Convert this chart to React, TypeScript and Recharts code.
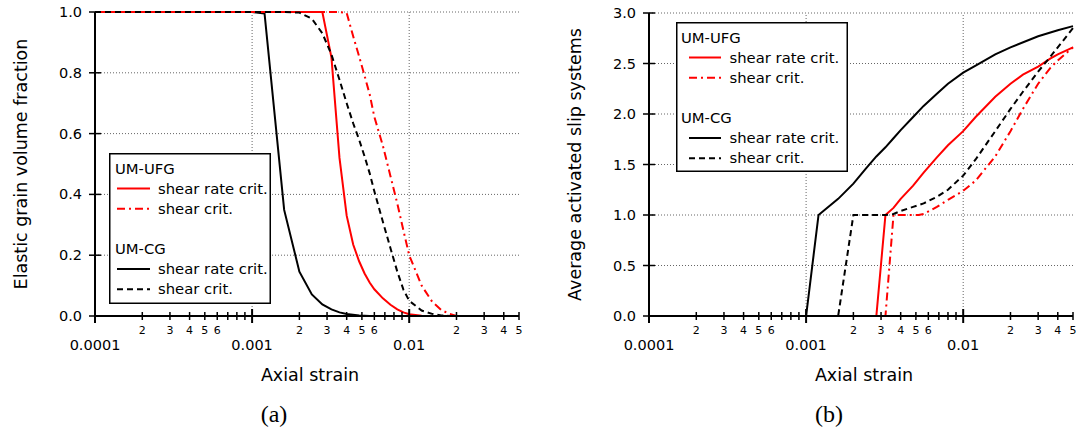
import React from "react";
import {
  CartesianGrid,
  Legend,
  Line,
  LineChart,
  ReferenceLine,
  XAxis,
  YAxis
} from "recharts";

const FONT = "'DejaVu Sans', Verdana, sans-serif";
const RED = "#f00";
const BLACK = "#000";
const DASH = "6 4";
const DASH_DOT = "8 4 2 4";
const GRID = "#666";

// log axis ticks: decades plus 2..9 minors, axis ends at 0.05
const xTicks = [
  0.0001, 0.0002, 0.0003, 0.0004, 0.0005, 0.0006, 0.0007, 0.0008, 0.0009,
  0.001, 0.002, 0.003, 0.004, 0.005, 0.006, 0.007, 0.008, 0.009,
  0.01, 0.02, 0.03, 0.04, 0.05
];
const decadeGrid = [0.001, 0.01];
const fracTicks = [0, 0.2, 0.4, 0.6, 0.8, 1.0];
const slipTicks = [0, 0.5, 1.0, 1.5, 2.0, 2.5, 3.0];

// (a) elastic grain volume fraction
const fracCgRateStrain = [0.0001, 0.001, 0.0012, 0.0016, 0.002, 0.0024, 0.0028, 0.0032, 0.0036, 0.004, 0.0048, 0.0056, 0.05];
const fracCgRate = [1, 1, 0.995, 0.349, 0.146, 0.071, 0.038, 0.022, 0.012, 0.0066, 0.002, 0, 0];

const fracCgShearStrain = [0.0001, 0.0016, 0.002, 0.0024, 0.0028, 0.0032, 0.0036, 0.004, 0.0044, 0.0048, 0.0052, 0.0056, 0.006, 0.0068, 0.0076, 0.0084, 0.0092, 0.01, 0.012, 0.014, 0.016, 0.018, 0.05];
const fracCgShear = [1, 1, 0.998, 0.978, 0.93, 0.86, 0.777, 0.7, 0.634, 0.58, 0.525, 0.47, 0.41, 0.31, 0.223, 0.146, 0.086, 0.05, 0.018, 0.007, 0.002, 0, 0];

const fracUfgRateStrain = [0.0001, 0.0028, 0.0032, 0.0036, 0.004, 0.0044, 0.0048, 0.0052, 0.0056, 0.006, 0.0068, 0.0076, 0.0084, 0.0092, 0.01, 0.012, 0.014, 0.05];
const fracUfgRate = [1, 1, 0.85, 0.52, 0.33, 0.235, 0.18, 0.14, 0.11, 0.088, 0.058, 0.037, 0.022, 0.012, 0.006, 0.001, 0, 0];

const fracUfgShearStrain = [0.0001, 0.0036, 0.004, 0.0044, 0.0048, 0.0052, 0.0056, 0.006, 0.0068, 0.0076, 0.0084, 0.0092, 0.01, 0.012, 0.014, 0.016, 0.018, 0.02, 0.05];
const fracUfgShear = [1, 1, 0.997, 0.92, 0.854, 0.79, 0.73, 0.655, 0.56, 0.46, 0.37, 0.28, 0.2, 0.1, 0.047, 0.02, 0.007, 0, 0];

// (b) average activated slip systems
const slipCgRateStrain = [0.0001, 0.001, 0.0012, 0.0016, 0.002, 0.0024, 0.0028, 0.0032, 0.0036, 0.004, 0.0048, 0.0056, 0.0068, 0.008, 0.01, 0.012, 0.016, 0.02, 0.03, 0.04, 0.05];
const slipCgRate = [0, 0, 1.0, 1.16, 1.31, 1.46, 1.58, 1.67, 1.76, 1.84, 1.97, 2.08, 2.2, 2.3, 2.41, 2.48, 2.59, 2.66, 2.77, 2.83, 2.87];

const slipCgShearStrain = [0.0001, 0.0016, 0.002, 0.0032, 0.0036, 0.004, 0.0048, 0.0056, 0.0068, 0.008, 0.01, 0.012, 0.016, 0.02, 0.024, 0.03, 0.036, 0.04, 0.05];
const slipCgShear = [0, 0, 1.0, 1.0, 1.01, 1.04, 1.08, 1.115, 1.18, 1.25, 1.39, 1.55, 1.83, 2.05, 2.22, 2.42, 2.57, 2.66, 2.85];

const slipUfgRateStrain = [0.0001, 0.0028, 0.0032, 0.0036, 0.004, 0.0048, 0.0056, 0.0068, 0.008, 0.01, 0.012, 0.016, 0.02, 0.024, 0.03, 0.036, 0.04, 0.05];
const slipUfgRate = [0, 0, 1.0, 1.07, 1.16, 1.29, 1.42, 1.57, 1.69, 1.83, 1.97, 2.17, 2.3, 2.39, 2.47, 2.55, 2.59, 2.66];

const slipUfgShearStrain = [0.0001, 0.0032, 0.0036, 0.0052, 0.0056, 0.0068, 0.008, 0.01, 0.012, 0.016, 0.02, 0.024, 0.03, 0.036, 0.04, 0.05];
const slipUfgShear = [0, 0, 1.0, 1.0, 1.01, 1.08, 1.15, 1.24, 1.34, 1.58, 1.83, 2.05, 2.3, 2.46, 2.53, 2.66];

const zip = (xs: number[], ys: number[]) => xs.map((x, i) => ({ x, y: ys[i] }));

function XTick({ x, y, payload }: any) {
  const v = payload.value as number;
  const exp = Math.floor(Math.log10(v) + 1e-9);
  const m = Math.round(v / Math.pow(10, exp));
  const major = m === 1;
  const len = major ? 7 : 4;
  return (
    <g>
      <line x1={x} x2={x} y1={y - len} y2={y + len} stroke="#000" strokeWidth={major ? 2 : 1.5} />
      {major ? (
        <text x={x} y={y + 34} textAnchor="middle" fontSize={14.5} fontFamily={FONT} fill="#000">
          {String(v)}
        </text>
      ) : m <= 6 ? (
        <text x={x} y={y + 18} textAnchor="middle" fontSize={11} fontFamily={FONT} fill="#000">
          {m}
        </text>
      ) : null}
    </g>
  );
}

function YTick({ x, y, payload }: any) {
  return (
    <g>
      <line x1={x - 6} x2={x + 6} y1={y} y2={y} stroke="#000" strokeWidth={1.5} />
      <text x={x - 13} y={y + 5} textAnchor="end" fontSize={14.5} fontFamily={FONT} fill="#000">
        {Number(payload.value).toFixed(1)}
      </text>
    </g>
  );
}

const yTitle = (text: string, dx: number) => (props: any) => {
  const vb = props.viewBox;
  if (!vb) return null;
  const cx = vb.x + dx;
  const cy = vb.y + vb.height / 2;
  return (
    <text
      x={cx}
      y={cy}
      transform={`rotate(-90 ${cx} ${cy})`}
      textAnchor="middle"
      dominantBaseline="central"
      fontSize={17.5}
      fontFamily={FONT}
      fill="#000"
    >
      {text}
    </text>
  );
};

const xTitle = (props: any) => {
  const vb = props.viewBox;
  if (!vb) return null;
  return (
    <text x={vb.x + vb.width / 2 + 3} y={vb.y + 65} textAnchor="middle" fontSize={17.5} fontFamily={FONT} fill="#000">
      Axial strain
    </text>
  );
};

const legendGroups = [
  {
    title: "UM-UFG",
    items: [
      { name: "shear rate crit.", stroke: RED, dash: undefined },
      { name: "shear crit.", stroke: RED, dash: DASH_DOT }
    ]
  },
  {
    title: "UM-CG",
    items: [
      { name: "shear rate crit.", stroke: BLACK, dash: undefined },
      { name: "shear crit.", stroke: BLACK, dash: DASH }
    ]
  }
];
const legendRowY = [15, 35.5, 55.7, 95.6, 116, 136.2];

function LegendBox({ w, h, titleX, lineX0, lineX1, textX }: any) {
  const rows: React.ReactNode[] = [];
  let r = 0;
  legendGroups.forEach((g, gi) => {
    rows.push(
      <text key={`t${gi}`} x={titleX} y={legendRowY[r] + 5.5} fontSize={14.8} fontFamily={FONT} fill="#000">
        {g.title}
      </text>
    );
    r++;
    g.items.forEach((it, ii) => {
      const yy = legendRowY[r];
      rows.push(
        <g key={`i${gi}${ii}`}>
          <line x1={lineX0} x2={lineX1} y1={yy} y2={yy} stroke={it.stroke} strokeWidth={2} strokeDasharray={it.dash} />
          <text x={textX} y={yy + 5} fontSize={14.8} fontFamily={FONT} fill="#000">
            {it.name}
          </text>
        </g>
      );
      r++;
    });
  });
  return (
    <svg width={w} height={h} style={{ display: "block" }}>
      <rect x={0.75} y={0.75} width={w - 1.5} height={h - 1.5} fill="#fff" stroke="#000" strokeWidth={1.5} />
      {rows}
    </svg>
  );
}

function Panel({ series, yTicks, yMax, yLabel, yLabelDx, yWidth, width, margin, legend }: any) {
  return (
    <LineChart width={width} height={434} margin={margin}>
      <CartesianGrid vertical={false} stroke={GRID} strokeWidth={1} strokeDasharray="1 2" />
      {decadeGrid.map((d) => (
        <ReferenceLine key={d} x={d} stroke={GRID} strokeWidth={1} strokeDasharray="1 2" />
      ))}
      <XAxis
        dataKey="x"
        type="number"
        scale="log"
        domain={[0.0001, 0.05]}
        ticks={xTicks}
        interval={0}
        height={118}
        tickSize={0}
        tickMargin={0}
        tickLine={false}
        tick={(p: any) => <XTick {...p} />}
        axisLine={{ stroke: "#000", strokeWidth: 2 }}
        label={{ content: xTitle }}
      />
      <XAxis
        xAxisId="top"
        orientation="top"
        type="number"
        scale="log"
        domain={[0.0001, 0.05]}
        height={0}
        tick={false}
        tickLine={false}
        axisLine={{ stroke: "#000", strokeWidth: 1.5 }}
      />
      <YAxis
        type="number"
        domain={[0, yMax]}
        ticks={yTicks}
        interval={0}
        width={yWidth}
        tickSize={0}
        tickMargin={0}
        tickLine={false}
        tick={(p: any) => <YTick {...p} />}
        axisLine={{ stroke: "#000", strokeWidth: 2 }}
        label={{ content: yTitle(yLabel, yLabelDx) }}
      />
      <YAxis
        yAxisId="right"
        orientation="right"
        type="number"
        domain={[0, yMax]}
        width={0}
        tick={false}
        tickLine={false}
        axisLine={{ stroke: "#000", strokeWidth: 1.5 }}
      />
      {series.map((s: any) => (
        <Line
          key={s.name}
          name={s.name}
          data={s.data}
          dataKey="y"
          type="linear"
          stroke={s.stroke}
          strokeWidth={2}
          strokeDasharray={s.dash}
          dot={false}
          activeDot={false}
          isAnimationActive={false}
        />
      ))}
      <Legend
        layout="vertical"
        align="center"
        verticalAlign="middle"
        wrapperStyle={{ left: legend.left, top: legend.top, width: legend.w, height: legend.h }}
        content={() => <LegendBox {...legend} />}
      />
    </LineChart>
  );
}

export default function App() {
  const fracSeries = [
    { name: "cg-rate", data: zip(fracCgRateStrain, fracCgRate), stroke: BLACK },
    { name: "ufg-rate", data: zip(fracUfgRateStrain, fracUfgRate), stroke: RED },
    { name: "ufg-shear", data: zip(fracUfgShearStrain, fracUfgShear), stroke: RED, dash: DASH_DOT },
    { name: "cg-shear", data: zip(fracCgShearStrain, fracCgShear), stroke: BLACK, dash: DASH }
  ];
  const slipSeries = [
    { name: "cg-rate", data: zip(slipCgRateStrain, slipCgRate), stroke: BLACK },
    { name: "ufg-rate", data: zip(slipUfgRateStrain, slipUfgRate), stroke: RED },
    { name: "ufg-shear", data: zip(slipUfgShearStrain, slipUfgShear), stroke: RED, dash: DASH_DOT },
    { name: "cg-shear", data: zip(slipCgShearStrain, slipCgShear), stroke: BLACK, dash: DASH }
  ];

  return (
    <div style={{ position: "absolute", left: 0, top: 0, width: 1078, height: 434, background: "#fff" }}>
      <div style={{ position: "absolute", left: 0, top: 0 }}>
        <Panel
          series={fracSeries}
          yTicks={fracTicks}
          yMax={1}
          yLabel="Elastic grain volume fraction"
          yLabelDx={21}
          yWidth={95}
          width={540}
          margin={{ top: 12, right: 21, bottom: 0, left: 0 }}
          legend={{ left: 109, top: 153, w: 162, h: 151, titleX: 6, lineX0: 8, lineX1: 41, textX: 49 }}
        />
      </div>
      <div style={{ position: "absolute", left: 540, top: 0 }}>
        <Panel
          series={slipSeries}
          yTicks={slipTicks}
          yMax={3}
          yLabel="Average activated slip systems"
          yLabelDx={35}
          yWidth={109}
          width={538}
          margin={{ top: 13, right: 5, bottom: 0, left: 0 }}
          legend={{ left: 136, top: 22, w: 172, h: 150, titleX: 5, lineX0: 13, lineX1: 45, textX: 53.5 }}
        />
      </div>
      <svg width={1078} height={434} style={{ position: "absolute", left: 0, top: 0, pointerEvents: "none" }}>
        <text x={274} y={422} textAnchor="middle" fontSize={24} fontFamily="'Liberation Serif', 'Times New Roman', serif">
          (a)
        </text>
        <text x={829} y={422} textAnchor="middle" fontSize={24} fontFamily="'Liberation Serif', 'Times New Roman', serif">
          (b)
        </text>
      </svg>
    </div>
  );
}
